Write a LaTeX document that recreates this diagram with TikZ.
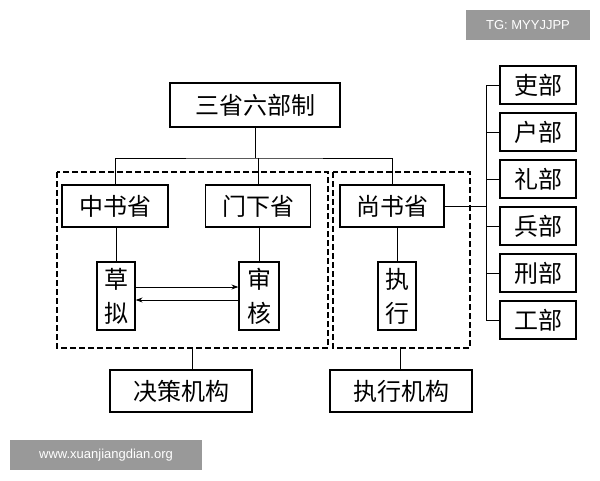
\documentclass[tikz,border=0pt]{standalone}
\usepackage{fontspec}
\setmainfont{Noto Sans CJK SC}
\newfontfamily\latin{Liberation Sans}
\usetikzlibrary{arrows.meta}
\begin{document}
\begin{tikzpicture}[x=1pt,y=-1pt,
  bx/.style={draw,line width=1.2pt,inner sep=0pt,font=\fontsize{24}{26}\selectfont},
  ln/.style={line width=0.9pt},
  dsh/.style={draw,dash pattern=on 6pt off 3pt,line width=1.1pt},
  tag/.style={fill=black!40,text=white,inner sep=0pt,font=\latin\fontsize{13}{15}\selectfont}]
\useasboundingbox (0,0) rectangle (600,480);
\node[tag,minimum width=124pt,minimum height=30pt] (tg) at (528,25) {TG: MYYJJPP};
\node[tag,minimum width=192pt,minimum height=30pt] (web) at (106,455) {www.xuanjiangdian.org};
\node[bx,minimum width=170pt,minimum height=44pt] (top) at (255,105) {三省六部制};
\node[bx,minimum width=106pt,minimum height=42pt] (zs) at (115,206) {中书省};
\node[bx,minimum width=105pt,minimum height=42pt] (mx) at (258,206) {门下省};
\node[bx,minimum width=104pt,minimum height=42pt] (ss) at (392,206) {尚书省};
\draw[dsh] (57,172) rectangle (328,348);
\draw[dsh] (333,172) rectangle (470,348);
\coordinate (dl) at (192,348);
\coordinate (dr) at (400,348);
\node[bx,minimum width=38pt,minimum height=68pt,align=center,font=\fontsize{24}{34}\selectfont] (cn) at (116,296) {草\\拟};
\node[bx,minimum width=40pt,minimum height=68pt,align=center,font=\fontsize{24}{34}\selectfont] (sh) at (259,296) {审\\核};
\node[bx,minimum width=38pt,minimum height=68pt,align=center,font=\fontsize{24}{34}\selectfont] (zx) at (397,296) {执\\行};
\node[bx,minimum width=142pt,minimum height=42pt] (jc) at (181,391) {决策机构};
\node[bx,minimum width=142pt,minimum height=42pt] (zj) at (401,391) {执行机构};
\foreach \n/\t/\y in {b1/吏部/85,b2/户部/132,b3/礼部/179,b4/兵部/226,b5/刑部/273,b6/工部/320}
  \node[bx,minimum width=76pt,minimum height=38pt] (\n) at (538,\y) {\t};
\draw[ln] (top.south) -- (top.south |- 0,158) coordinate (h);
\draw[ln] (zs.north) |- (h) -| (ss.north);
\draw[ln] (mx.north) -- (mx.north |- h);
\draw[ln] (cn.north) -- (cn.north |- zs.south);
\draw[ln] (sh.north) -- (sh.north |- mx.south);
\draw[ln] (zx.north) -- (zx.north |- ss.south);
\draw[ln] (dl) -- (jc.north -| dl);
\draw[ln] (dr) -- (zj.north -| dr);
\draw[ln,-{Stealth[length=7pt,width=5pt]}] (cn.east |- 0,287) -- (sh.west |- 0,287);
\draw[ln,-{Stealth[length=7pt,width=5pt]}] (sh.west |- 0,300) -- (cn.east |- 0,300);
\draw[ln] (ss.east) -- (486,206) coordinate (sp);
\draw[ln] (486,85) -- (486,320);
\foreach \n in {b1,b2,b3,b4,b5,b6} \draw[ln] (\n.west) -- (486,0 |- \n.west);
\end{tikzpicture}
\end{document}
